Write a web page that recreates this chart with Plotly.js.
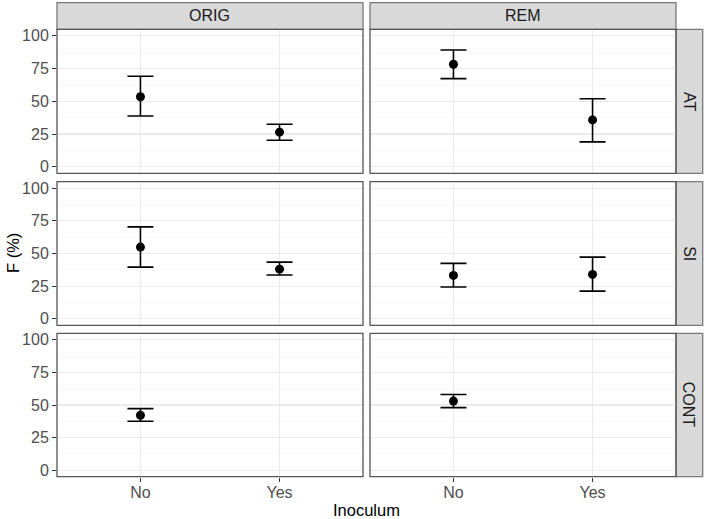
<!DOCTYPE html>
<html>
<head>
<meta charset="utf-8">
<script src="https://cdn.plot.ly/plotly-3.0.1.min.js"></script>
<style>
  html, body { margin: 0; padding: 0; background: #fff; }
  #chart { width: 706px; height: 519px; }
</style>
</head>
<body>
<div id="chart"></div>
<script>
// facet levels
var inoculum = ['No', 'Yes'];
var sources = ['ORIG', 'REM'];
var treatments = ['AT', 'SI', 'CONT'];

// F (%) mean and interval, [source][inoculum]
var atMean = [[53.5, 26.4], [78.3, 35.8]];
var atLow  = [[38.8, 20.2], [67.3, 19.0]];
var atHigh = [[69.1, 32.5], [89.2, 52.0]];

var siMean = [[54.9, 38.0], [33.2, 34.0]];
var siLow  = [[39.6, 33.5], [24.3, 21.2]];
var siHigh = [[70.4, 43.4], [42.4, 47.2]];

var contMean = [[42.1, null], [53.0, null]];
var contLow  = [[37.5, null], [48.0, null]];
var contHigh = [[47.2, null], [58.1, null]];

var means = [atMean, siMean, contMean];
var lows = [atLow, siLow, contLow];
var highs = [atHigh, siHigh, contHigh];

var W = 706, H = 519;
var colX = [[57, 363], [370, 676]];
var rowY = [[29.3, 173.3], [181.7, 325.3], [333.3, 476.7]];
var borderCol = '#555555';
var stripLine = '#7a7a7a';
var font = 'Liberation Sans, Arial, sans-serif';

var data = [];
var layout = {
  width: W, height: H,
  margin: { l: 0, r: 0, t: 0, b: 0 },
  paper_bgcolor: '#fff',
  plot_bgcolor: '#fff',
  showlegend: false,
  font: { family: font, size: 16, color: '#4D4D4D' },
  shapes: [],
  annotations: []
};

var n = 0;
for (var r = 0; r < treatments.length; r++) {
  for (var c = 0; c < sources.length; c++) {
    n++;
    var xs = [], ys = [], up = [], dn = [];
    for (var k = 0; k < inoculum.length; k++) {
      var m = means[r][c][k];
      if (m === null) continue;
      xs.push(inoculum[k]);
      ys.push(m);
      up.push(highs[r][c][k] - m);
      dn.push(m - lows[r][c][k]);
    }
    var xa = 'x' + (n === 1 ? '' : n), ya = 'y' + (n === 1 ? '' : n);
    data.push({
      type: 'scatter', mode: 'markers',
      x: xs, y: ys, xaxis: xa, yaxis: ya,
      marker: { color: '#000', size: 9 },
      error_y: {
        type: 'data', symmetric: false, array: up, arrayminus: dn,
        color: '#000', thickness: 1.6, width: 13
      },
      hoverinfo: 'x+y'
    });
    var xk = 'xaxis' + (n === 1 ? '' : n), yk = 'yaxis' + (n === 1 ? '' : n);
    var bottom = r === treatments.length - 1;
    var left = c === 0;
    layout[xk] = {
      type: 'category',
      categoryorder: 'array', categoryarray: inoculum,
      range: [-0.6, 1.6],
      domain: [colX[c][0] / W, colX[c][1] / W],
      anchor: ya,
      showgrid: true, gridcolor: '#EBEBEB', gridwidth: 1,
      zeroline: false, showline: false,
      showticklabels: bottom,
      ticks: bottom ? 'outside' : '', ticklen: 4, tickwidth: 1, tickcolor: '#333',
      ticklabelstandoff: -3,
      tickfont: { size: 16, color: '#4D4D4D' },
      fixedrange: true
    };
    layout[yk] = {
      range: [-5, 105],
      domain: [(H - rowY[r][1]) / H, (H - rowY[r][0]) / H],
      anchor: xa,
      tick0: 0, dtick: 25,
      showgrid: true, gridcolor: '#EBEBEB', gridwidth: 1.1,
      minor: { dtick: 12.5, showgrid: true, gridcolor: '#F3F3F3', gridwidth: 0.6, ticks: '' },
      zeroline: false, showline: false,
      showticklabels: left,
      ticks: left ? 'outside' : '', ticklen: 4, tickwidth: 1, tickcolor: '#333',
      tickfont: { size: 16, color: '#4D4D4D' },
      fixedrange: true
    };
    // panel border
    layout.shapes.push({
      type: 'rect', xref: 'paper', yref: 'paper', layer: 'above',
      x0: colX[c][0] / W, x1: colX[c][1] / W,
      y0: (H - rowY[r][1]) / H, y1: (H - rowY[r][0]) / H,
      line: { color: borderCol, width: 1.3 }
    });
  }
}

// top strips
var stripTop = 2.7;
for (var c2 = 0; c2 < sources.length; c2++) {
  layout.shapes.push({
    type: 'rect', xref: 'paper', yref: 'paper', layer: 'below',
    x0: colX[c2][0] / W, x1: colX[c2][1] / W,
    y0: (H - rowY[0][0]) / H, y1: (H - stripTop) / H,
    fillcolor: '#D9D9D9', line: { color: stripLine, width: 1.3 }
  });
  layout.annotations.push({
    text: sources[c2], xref: 'paper', yref: 'paper', showarrow: false,
    x: (colX[c2][0] + colX[c2][1]) / 2 / W,
    y: (H - (stripTop + rowY[0][0]) / 2) / H,
    xanchor: 'center', yanchor: 'middle',
    font: { size: 16, color: '#1A1A1A' }
  });
}

// right strips
var stripX = [676, 702.7];
for (var r2 = 0; r2 < treatments.length; r2++) {
  layout.shapes.push({
    type: 'rect', xref: 'paper', yref: 'paper', layer: 'below',
    x0: stripX[0] / W, x1: stripX[1] / W,
    y0: (H - rowY[r2][1]) / H, y1: (H - rowY[r2][0]) / H,
    fillcolor: '#D9D9D9', line: { color: stripLine, width: 1.3 }
  });
  layout.annotations.push({
    text: treatments[r2], xref: 'paper', yref: 'paper', showarrow: false,
    x: (stripX[0] + stripX[1]) / 2 / W,
    y: (H - (rowY[r2][0] + rowY[r2][1]) / 2) / H,
    xanchor: 'center', yanchor: 'middle', textangle: 90,
    font: { size: 16, color: '#1A1A1A' }
  });
}

// axis titles
layout.annotations.push({
  text: 'Inoculum', xref: 'paper', yref: 'paper', showarrow: false,
  x: (colX[0][0] + colX[1][1]) / 2 / W, y: (H - 510) / H,
  xanchor: 'center', yanchor: 'middle',
  font: { size: 16.5, color: '#000' }
});
layout.annotations.push({
  text: 'F (%)', xref: 'paper', yref: 'paper', showarrow: false,
  x: 13 / W, y: (H - (rowY[0][0] + rowY[2][1]) / 2) / H,
  xanchor: 'center', yanchor: 'middle', textangle: -90,
  font: { size: 16.5, color: '#000' }
});

Plotly.newPlot('chart', data, layout, { displayModeBar: false, staticPlot: true });
</script>
</body>
</html>
